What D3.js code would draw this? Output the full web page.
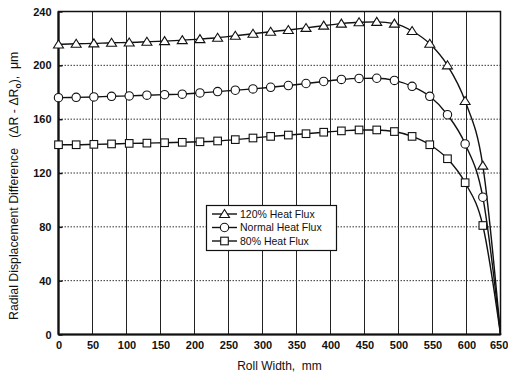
<!DOCTYPE html>
<html>
<head>
<meta charset="utf-8">
<script src="https://cdn.jsdelivr.net/npm/d3@7"></script>
<style>
  body { margin: 0; background: #fff; }
  text { font-family: "Liberation Sans", Arial, sans-serif; fill: #111; white-space: pre; }
</style>
</head>
<body>
<div id="chart"></div>
<script>
// roll width positions (mm), 26 mm apart
const rollWidth = d3.range(0, 26).map(i => i * 26)

const flux120 = [215.5, 216, 216.3, 216.8, 217, 217.5, 218, 218.7, 219.5, 220.5, 222, 223.5, 225,
    226.3, 227.8, 229.5, 231, 232, 232.3, 231, 225.5, 216, 200, 173.5, 125.5, 0]
const fluxNormal = [176, 176.2, 176.5, 177, 177.3, 177.8, 178.2, 178.6, 179.5, 180.5, 181.5, 182.5, 183.7,
    185, 186.5, 188, 189.5, 190.3, 190.4, 188.8, 184.4, 177, 163.3, 141.6, 102, 0]
const flux80 = [141, 141, 141.3, 141.6, 142, 142.2, 142.5, 142.8, 143.2, 143.8, 144.8, 146, 147.2,
    148.2, 149.2, 150.3, 151.3, 152, 152, 150.8, 147.2, 141, 130.6, 112.8, 81, 0]

const xTicks = d3.range(0, 651, 50)
const yTicks = d3.range(0, 241, 40)

const seriesNames = ['120% Heat Flux', 'Normal Heat Flux', '80% Heat Flux']
const seriesMarks = ['triangle', 'circle', 'square']

const width = 508, height = 378
const margin = { top: 11.5, right: 7.5, bottom: 43.5, left: 58.5 }

const svg = d3.select('#chart').append('svg')
    .attr('width', width)
    .attr('height', height)

const x = d3.scaleLinear().domain([0, 650]).range([margin.left, width - margin.right])
const y = d3.scaleLinear().domain([0, 240]).range([height - margin.bottom, margin.top])

// grid
svg.append('g')
    .selectAll('line')
    .data(xTicks.slice(1, -1))
    .enter().append('line')
    .attr('x1', d => x(d)).attr('x2', d => x(d))
    .attr('y1', y(0)).attr('y2', y(240))
    .attr('stroke', '#222')
    .attr('stroke-width', 1)

svg.append('g')
    .selectAll('line')
    .data(yTicks.slice(1, -1))
    .enter().append('line')
    .attr('x1', x(0)).attr('x2', x(650))
    .attr('y1', d => y(d)).attr('y2', d => y(d))
    .attr('stroke', '#333')
    .attr('stroke-width', 1)
    .attr('stroke-dasharray', '1.5,1.5')

// axes
let xAxis = svg.append('g')
    .attr('transform', 'translate(0,' + y(0) + ')')
    .call(d3.axisBottom(x).tickValues(xTicks).tickSize(0).tickPadding(7))
xAxis.select('.domain').remove()
xAxis.selectAll('text')
    .style('font-size', '11px')
    .style('font-weight', 'bold')
    .style('font-family', '"Liberation Sans", Arial, sans-serif')
// last label sits against the right edge
xAxis.selectAll('.tick').filter(d => d === 650).select('text')
    .attr('text-anchor', 'end')
    .attr('x', 7.3)

let yAxis = svg.append('g')
    .attr('transform', 'translate(' + x(0) + ',0)')
    .call(d3.axisRight(y).tickValues(yTicks).tickSize(4).tickFormat(d => d))
yAxis.select('.domain').remove()
yAxis.selectAll('line').attr('stroke', '#111').attr('stroke-width', 1.5)
yAxis.selectAll('text')
    .attr('x', -7)
    .attr('text-anchor', 'end')
    .style('font-size', '11px')
    .style('font-weight', 'bold')
    .style('font-family', '"Liberation Sans", Arial, sans-serif')

// frame
svg.append('rect')
    .attr('x', x(0)).attr('y', y(240))
    .attr('width', x(650) - x(0)).attr('height', y(0) - y(240))
    .attr('fill', 'none')
    .attr('stroke', '#111')
    .attr('stroke-width', 1.5)
svg.append('line')
    .attr('x1', x(0)).attr('x2', x(0)).attr('y1', y(240)).attr('y2', y(0))
    .attr('stroke', '#111').attr('stroke-width', 2.2)
svg.append('line')
    .attr('x1', x(0)).attr('x2', x(650)).attr('y1', y(0)).attr('y2', y(0))
    .attr('stroke', '#111').attr('stroke-width', 2.2)

// series
const allSeries = [flux120, fluxNormal, flux80]

const line = d3.line()
    .x((d, i) => x(rollWidth[i]))
    .y(d => y(d))
    .curve(d3.curveMonotoneX)

function drawMark(g, kind, cx, cy) {
    if (kind === 'triangle') {
        g.append('path')
            .attr('d', 'M' + cx + ',' + (cy - 4.5) + 'L' + (cx + 5) + ',' + (cy + 3.5) + 'L' + (cx - 5) + ',' + (cy + 3.5) + 'Z')
            .attr('fill', '#fff').attr('stroke', '#111').attr('stroke-width', 1.1)
    } else if (kind === 'circle') {
        g.append('circle')
            .attr('cx', cx).attr('cy', cy).attr('r', 4.2)
            .attr('fill', '#fff').attr('stroke', '#111').attr('stroke-width', 1.1)
    } else {
        g.append('rect')
            .attr('x', cx - 3.8).attr('y', cy - 3.8).attr('width', 7.6).attr('height', 7.6)
            .attr('fill', '#fff').attr('stroke', '#111').attr('stroke-width', 1.1)
    }
}

allSeries.forEach((values, k) => {
    let g = svg.append('g')
    g.append('path')
        .attr('d', line(values))
        .attr('fill', 'none')
        .attr('stroke', '#111')
        .attr('stroke-width', 1.4)
    // the last point (650 mm, 0) carries no visible marker
    values.slice(0, -1).forEach((v, i) => {
        drawMark(g, seriesMarks[k], x(rollWidth[i]), y(v))
    })
})

// legend
let legend = svg.append('g')
legend.append('rect')
    .attr('x', 206.5).attr('y', 205.5)
    .attr('width', 130).attr('height', 45)
    .attr('fill', '#fff')
    .attr('stroke', '#111')
    .attr('stroke-width', 1.2)

seriesNames.forEach((name, k) => {
    let ly = 214 + k * 13.5
    legend.append('line')
        .attr('x1', 212).attr('x2', 237)
        .attr('y1', ly).attr('y2', ly)
        .attr('stroke', '#111').attr('stroke-width', 1.4)
    drawMark(legend, seriesMarks[k], 224.5, ly)
    legend.append('text')
        .attr('x', 240).attr('y', ly + 3.8)
        .style('font-size', '10.5px')
        .text(name)
})

// titles
svg.append('text')
    .attr('x', x(325))
    .attr('y', 370)
    .attr('text-anchor', 'middle')
    .style('font-size', '12px')
    .text('Roll Width,  mm')

let yTitle = svg.append('text')
    .attr('transform', 'translate(18,320)rotate(-90)')
    .attr('text-anchor', 'start')
    .style('font-size', '12.3px')
yTitle.append('tspan').text('Radial Displacement Difference   (\u0394R - \u0394R')
yTitle.append('tspan').attr('dy', 3).style('font-size', '8.5px').style('font-weight', 'bold').text('o')
yTitle.append('tspan').attr('dy', -3).text('),  \u03bcm')
</script>
</body>
</html>
